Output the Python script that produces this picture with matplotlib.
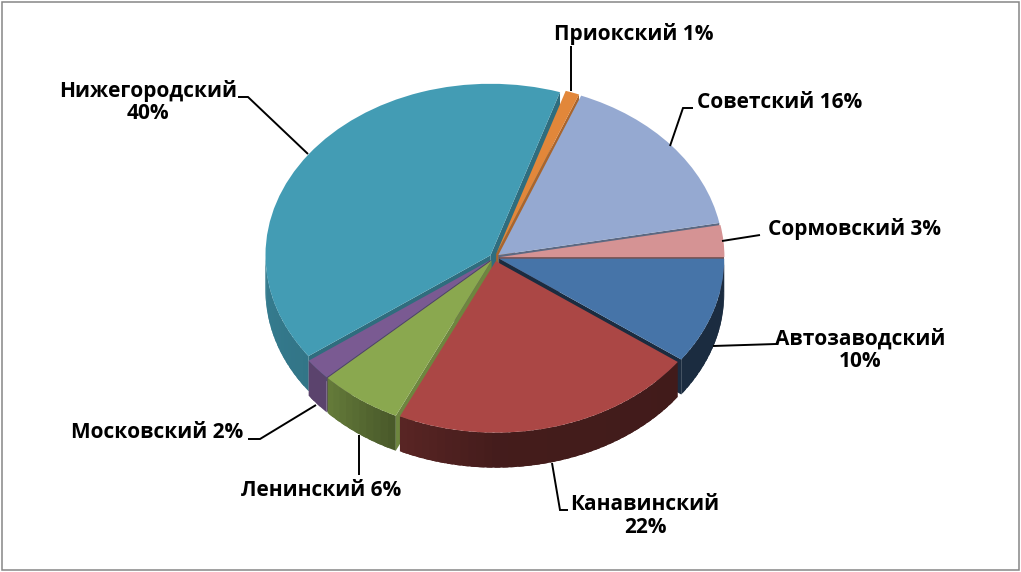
import numpy as np
import matplotlib
matplotlib.use("Agg")
import matplotlib.pyplot as plt
from matplotlib.patches import Rectangle

names = ["Автозаводский", "Канавинский", "Ленинский", "Московский",
         "Нижегородский", "Приокский", "Советский", "Сормовский"]
values = [10, 22, 6, 2, 40, 1, 16, 3]

colors = ["#4674A8", "#AB4745", "#8AA84F", "#7A5A92", "#439CB4", "#E2873A", "#95A9D1", "#D59394"]
explode = [0.022] * 8
edge_shade = [0.38, 0.7, 0.8, 0.7, 0.7, 0.75, 0.62, 0.55]
paint_order = [4, 5, 6, 7, 0, 3, 2, 1]
label_breaks = [True, True, False, False, True, False, False, False]
label_pos = [(860, 350), (645, 516), (321, 490), (157, 433), (148, 102), (634, 34), (780, 102), (854, 229)]
leaders = [
    [(713, 346), (776, 344)],
    [(552, 463), (560, 510), (568, 510)],
    [(359, 435), (359, 475)],
    [(316, 405), (260, 439), (248, 439)],
    [(308, 154), (248, 97), (238, 97)],
    [(571, 91), (571, 46)],
    [(670, 146), (683, 108), (693, 108)],
    [(722, 241), (760, 235)],
]

W, H = 1021, 572
CX, CY, RX, RY = 494.5, 257.5, 225.0, 171.5
DEPTH = 35 / RY

fig = plt.figure(figsize=(W / 100, H / 100), dpi=100, facecolor="white")
ax = fig.add_axes([0, 0, 1, 1])
wedges, _ = ax.pie(values, startangle=0, counterclock=False, radius=1, explode=explode,
                   colors=colors, wedgeprops=dict(linewidth=0), normalize=True)
ax.set_aspect("auto")
ax.set_xlim(-CX / RX, (W - CX) / RX)
ax.set_ylim((CY - H) / RY, CY / RY)
ax.set_axis_off()


def shade(col, f):
    return tuple(c * f for c in matplotlib.colors.to_rgb(col))


def wall_factor(angle):
    return np.interp(angle, [0, 36, 90, 115, 137, 180], [.38, .38, .40, .52, .74, .80])


total = float(sum(values))
edges = np.concatenate([[0], np.cumsum(values)]) / total * 360.0
for rank, i in enumerate(paint_order):
    a1, a2 = edges[i], edges[i + 1]
    mid = np.radians((a1 + a2) / 2)
    ox, oy = explode[i] * np.cos(mid), -explode[i] * np.sin(mid)
    z = 10 + rank * 3
    for a, visible in ((a1, 90 < a1 < 270), (a2, np.cos(np.radians(a2)) > 0)):
        if visible:
            t = np.radians(a)
            rx, ry = ox + np.cos(t), oy - np.sin(t)
            ax.fill([ox, rx, rx, ox], [oy, ry, ry - DEPTH, oy - DEPTH],
                    color=shade(colors[i], edge_shade[i]), lw=0, zorder=z)
    lo, hi = max(a1, 0), min(a2, 180)
    if hi > lo:
        steps = np.linspace(lo, hi, max(2, int((hi - lo) / 2) + 1))
        for s, e in zip(steps[:-1], steps[1:]):
            t = np.radians(np.linspace(s, min(e + 1.5, hi), 6))
            xs = ox + np.cos(t)
            ys = oy - np.sin(t)
            ax.fill(np.r_[xs, xs[::-1]], np.r_[ys, ys[::-1] - DEPTH],
                    color=shade(colors[i], wall_factor((s + e) / 2)), lw=0, zorder=z)
    wedges[i].set_zorder(z + 1)

over = fig.add_axes([0, 0, 1, 1], facecolor="none")
over.set_xlim(0, W)
over.set_ylim(H, 0)
over.set_axis_off()
over.add_patch(Rectangle((1.5, 1.5), W - 4, H - 4, fill=False, ec="#868686", lw=1.1))
for pts in leaders:
    xs, ys = zip(*pts)
    over.plot(xs, ys, color="black", lw=1.4, solid_capstyle="butt", solid_joinstyle="miter")
for n, v, br, (x, y) in zip(names, values, label_breaks, label_pos):
    over.text(x, y, f"{n}{chr(10) if br else ' '}{v}%", ha="center", va="center",
              fontsize=15.0, fontweight="bold", family="Open Sans", color="black", linespacing=1.07)

fig.savefig("out.png", dpi=100)
